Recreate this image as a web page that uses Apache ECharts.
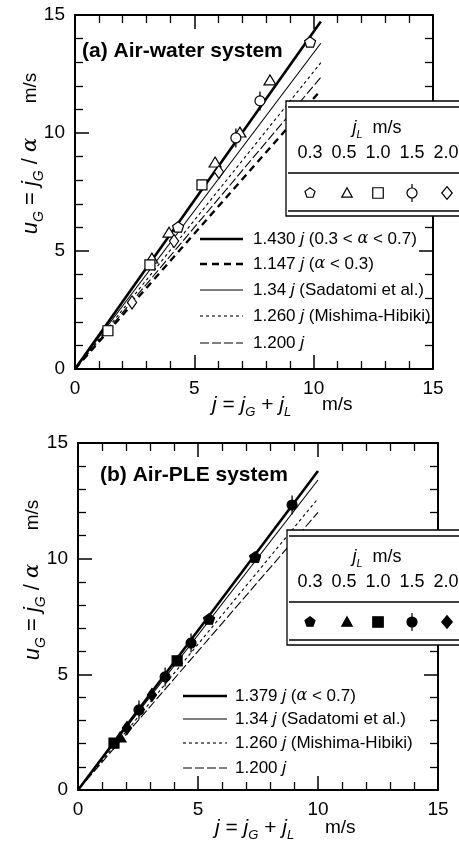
<!DOCTYPE html>
<html>
<head>
<meta charset="utf-8">
<script src="https://cdn.jsdelivr.net/npm/echarts@6/dist/echarts.min.js"></script>
<style>
html, body { margin: 0; padding: 0; background: #fff; }
#chart { width: 459px; height: 852px; }
</style>
</head>
<body>
<div id="chart"></div>
<script>
// correlation slopes, u_G = C * j
const slopesA = [1.430, 1.147, 1.34, 1.260, 1.200]
const slopesB = [1.379, 1.34, 1.260, 1.200]
const jEndA = 10.3
const jEndB = 10.0

// (a) air-water, [j, u_G] per j_L
const awP03 = [[9.85, 13.86], [4.32, 6.02]]
const awP05 = [[8.17, 12.25], [6.91, 10.04], [5.87, 8.77], [3.94, 5.80], [3.22, 4.70]]
const awP10 = [[5.32, 7.80], [3.14, 4.41], [1.38, 1.62]]
const awP15 = [[7.75, 11.36], [6.74, 9.79]]
const awP20 = [[6.03, 8.35], [4.15, 5.42], [2.39, 2.82]]

// (b) air-PLE
const pleP03 = [[7.38, 10.07], [5.46, 7.39]]
const pleP05 = [[1.75, 2.29]]
const pleP10 = [[1.50, 2.03], [4.13, 5.58]]
const pleP15 = [[8.92, 12.32], [4.71, 6.35], [3.63, 4.89], [2.54, 3.46]]
const pleP20 = [[3.08, 4.11], [2.04, 2.68]]

const jLLabels = ['0.3', '0.5', '1.0', '1.5', '2.0']
const labelsA = ['1.430 {i|j} (0.3 < {g|α} < 0.7)', '1.147 {i|j} ({g|α} < 0.3)', '1.34 {i|j} (Sadatomi et al.)',
  '1.260 {i|j} (Mishima-Hibiki)', '1.200 {i|j}']
const labelsB = ['1.379 {i|j} ({g|α} < 0.7)', '1.34 {i|j} (Sadatomi et al.)', '1.260 {i|j} (Mishima-Hibiki)', '1.200 {i|j}']

const stylesA = [{ width: 2.6 }, { width: 2.4, type: [7, 5] }, { width: 1.1 }, { width: 1.1, type: [3, 3] }, { width: 1.1, type: [9, 3] }]
const stylesB = [{ width: 2.6 }, { width: 1.1 }, { width: 1.1, type: [3, 3] }, { width: 1.1, type: [9, 3] }]

const FONT = "'Liberation Sans', Arial, sans-serif"

const symKeys = ['pent', 'tri', 'sq', 'hex', 'dia']
// outline points of the markers
const symPts = {
  pent: [[0, -5], [4.76, -1.55], [2.94, 4.05], [-2.94, 4.05], [-4.76, -1.55]],
  tri: [[0, -5], [5, 4], [-5, 4]],
  sq: [[-5, -5], [5, -5], [5, 5], [-5, 5]],
  dia: [[0, -6], [5, 0], [0, 6], [-5, 0]]
}
const symD = {}
Object.keys(symPts).forEach(k => {
  symD[k] = 'path://M' + symPts[k].map(p => p[0] + ',' + p[1]).join('L') + 'Z'
})
symD.hex = 'circle'
const symSize = { pent: [11, 11], tri: [12, 11], sq: [10, 10], hex: [10, 10], dia: [11, 13] }

function richFor(size) {
  return {
    i: { fontFamily: FONT, fontStyle: 'italic', fontSize: size },
    g: { fontFamily: "'DejaVu Serif', serif", fontStyle: 'italic', fontSize: size - 1 },
    s: { fontFamily: FONT, fontStyle: 'italic', fontSize: Math.round(size * 0.62), height: Math.round(size * 0.62), verticalAlign: 'bottom' }
  }
}

function txt(x, y, text, size, opt) {
  opt = opt || {}
  return {
    type: 'text', x: x, y: y, z: 110, silent: true, rotation: opt.rotation || 0,
    style: {
      text: text, fontSize: size, fontFamily: FONT, fontWeight: opt.weight || 'normal',
      fill: '#000', align: opt.align || 'left', verticalAlign: 'middle',
      lineHeight: Math.round(size * 1.35), rich: richFor(size)
    }
  }
}

function hline(x1, x2, y, w, dash) {
  return { type: 'line', z: 105, silent: true, shape: { x1: x1, y1: y, x2: x2, y2: y },
    style: { stroke: '#000', lineWidth: w, lineDash: dash || null } }
}

function legendSym(key, cx, cy, filled) {
  const st = { fill: filled ? '#000' : '#fff', stroke: '#000', lineWidth: 1.2 }
  if (key === 'hex') {
    return [
      { type: 'line', z: 109, silent: true, shape: { x1: cx, y1: cy - 9, x2: cx, y2: cy + 9 }, style: { stroke: '#000', lineWidth: 1.2 } },
      { type: 'circle', z: 110, silent: true, shape: { cx: cx, cy: cy, r: 5 }, style: st }
    ]
  }
  const pts = symPts[key].map(p => [cx + p[0] * 1.05, cy + p[1] * 1.05])
  return [{ type: 'polygon', z: 110, silent: true, shape: { points: pts }, style: st }]
}

// j_L table box, top-left at (x, top)
function tableBox(x, top, filled) {
  let els = []
  els.push({ type: 'rect', z: 104, silent: true, shape: { x: x, y: top, width: 200, height: 115 },
    style: { fill: '#fff', stroke: '#000', lineWidth: 1.3 } })
  els.push(hline(x + 2, 470, top + 6, 1.4))
  els.push(hline(x + 2, 470, top + 72, 1.4))
  els.push(hline(x + 2, 470, top + 110, 1.4))
  els.push(txt(377, top + 27, '{i|j}{s|L}  m/s', 18, { align: 'center' }))
  const colX = [310, 344, 378, 412, 446]
  jLLabels.forEach((t, k) => els.push(txt(colX[k], top + 52, t, 18, { align: 'center' })))
  const symX = [310, 347, 378, 412, 447]
  symKeys.forEach((key, k) => { els = els.concat(legendSym(key, symX[k], top + 92, filled)) })
  return els
}

function lineLegend(x1, x2, tx, rows, labels, styles) {
  const els = []
  labels.forEach((t, k) => {
    const st = styles[k]
    els.push(hline(x1, x2, rows[k], st.width, st.type || null))
    els.push(txt(tx, rows[k], t, 17))
  })
  return els
}

function axis(gi, pos, labels) {
  return {
    type: 'value', gridIndex: gi, position: pos, min: 0, max: 15, interval: 5,
    axisLine: { show: true, onZero: false, lineStyle: { color: '#000', width: 2 } },
    axisTick: { show: true, inside: true, length: 14, lineStyle: { color: '#000', width: 1.5 } },
    minorTick: { show: true, splitNumber: 5, length: 8, lineStyle: { color: '#000', width: 1.3 } },
    splitLine: { show: false },
    axisLabel: { show: labels, color: '#000', fontSize: 19, fontFamily: FONT, margin: 10 }
  }
}

function fitLines(slopes, jEnd, styles, gi) {
  return slopes.map((k, n) => ({
    type: 'line', xAxisIndex: gi * 2, yAxisIndex: gi * 2, silent: true, animation: false,
    symbol: 'none', z: 3,
    data: [[0, 0], [jEnd, k * jEnd]],
    lineStyle: { color: '#000', width: styles[n].width, type: styles[n].type || 'solid' }
  }))
}

function points(data, key, filled, gi) {
  return {
    type: 'scatter', xAxisIndex: gi * 2, yAxisIndex: gi * 2, silent: true, animation: false, z: 5,
    data: data, symbol: symD[key], symbolSize: symSize[key], symbolKeepAspect: true,
    itemStyle: { color: filled ? '#000' : '#fff', borderColor: '#000', borderWidth: 1.2, opacity: 1 }
  }
}

// vertical bar drawn under the j_L = 1.5 markers
function bars(data, gi) {
  return {
    type: 'scatter', xAxisIndex: gi * 2, yAxisIndex: gi * 2, silent: true, animation: false, z: 4,
    data: data, symbol: 'rect', symbolSize: [1.3, 19],
    itemStyle: { color: '#000', opacity: 1 }
  }
}

const seriesList = [].concat(
  fitLines(slopesA, jEndA, stylesA, 0),
  fitLines(slopesB, jEndB, stylesB, 1),
  [bars(awP15, 0), bars(pleP15, 1)],
  [awP03, awP05, awP10, awP15, awP20].map((d, k) => points(d, symKeys[k], false, 0)),
  [pleP03, pleP05, pleP10, pleP15, pleP20].map((d, k) => points(d, symKeys[k], true, 1))
)

const yTitle = '{i|u}{s|G} = {i|j}{s|G} / {g|α}'
const xTitle = '{i|j} = {i|j}{s|G} + {i|j}{s|L}'

const graphics = [].concat(
  [txt(82, 51, '(a) Air-water system', 21, { weight: 'bold' }),
   txt(100, 475, '(b) Air-PLE system', 21, { weight: 'bold' }),
   txt(31, 186, yTitle, 22, { align: 'center', rotation: Math.PI / 2 }),
   txt(31, 88, 'm/s', 19, { align: 'center', rotation: Math.PI / 2 }),
   txt(33, 612, yTitle, 22, { align: 'center', rotation: Math.PI / 2 }),
   txt(33, 515, 'm/s', 19, { align: 'center', rotation: Math.PI / 2 }),
   txt(212, 405, xTitle, 21),
   txt(322, 405, 'm/s', 19),
   txt(215, 828, xTitle, 21),
   txt(325, 828, 'm/s', 19)],
  tableBox(286, 101, false),
  tableBox(287, 530, true),
  lineLegend(200, 243, 253, [239, 264, 290, 316, 343], labelsA, stylesA),
  lineLegend(183, 227, 235, [696, 719, 743, 768], labelsB, stylesB)
)

const chart = echarts.init(document.getElementById('chart'))
chart.setOption({
  animation: false,
  backgroundColor: '#fff',
  textStyle: { fontFamily: FONT, color: '#000' },
  grid: [
    { left: 75, top: 15, width: 358, height: 354, outerBoundsMode: 'none' },
    { left: 78, top: 443, width: 360, height: 347, outerBoundsMode: 'none' }
  ],
  xAxis: [axis(0, 'bottom', true), axis(0, 'top', false), axis(1, 'bottom', true), axis(1, 'top', false)],
  yAxis: [axis(0, 'left', true), axis(0, 'right', false), axis(1, 'left', true), axis(1, 'right', false)],
  series: seriesList,
  graphic: graphics
})
</script>
</body>
</html>
